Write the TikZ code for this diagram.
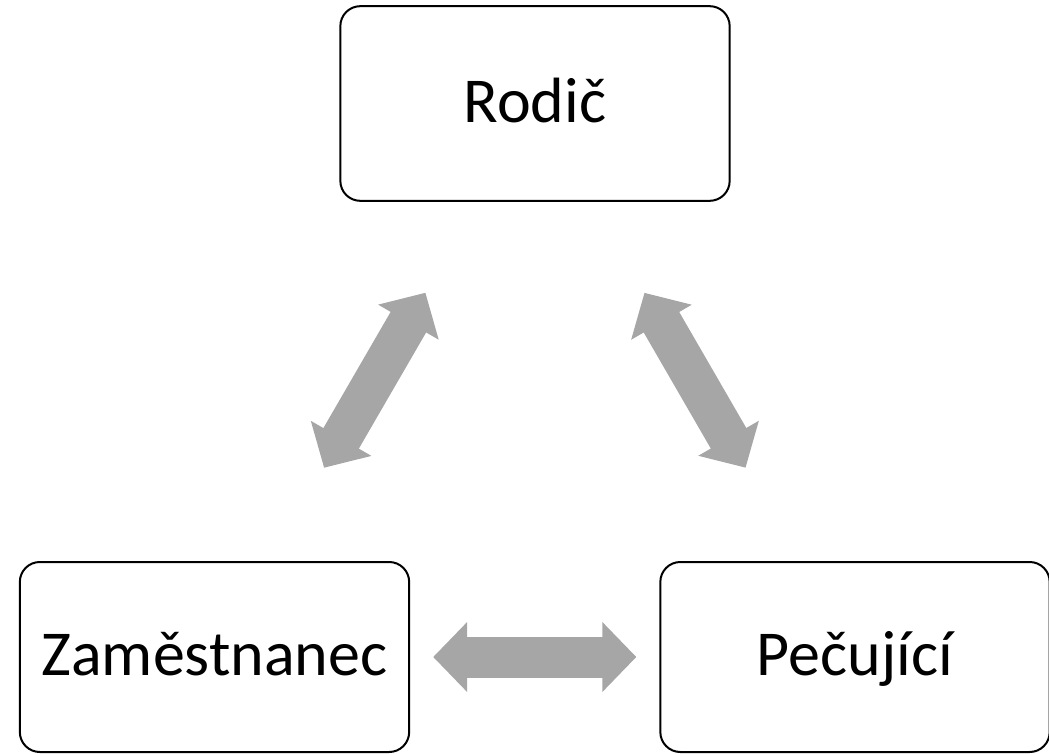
\documentclass[tikz,border=0pt]{standalone}
\usepackage{fontspec}
\setmainfont{Carlito}
\usetikzlibrary{arrows.meta}
\begin{document}
\begin{tikzpicture}[x=0.75pt, y=-0.75pt,
    role/.style={draw, line width=1.5pt, rounded corners=15pt,
        minimum width=292pt, minimum height=146pt, inner sep=0pt,
        text height=38pt, text depth=10pt,
        font=\fontsize{48}{58}\selectfont},
    link/.style={draw=clarrow, line width=30.75pt,
        {Triangle[length=25.5pt,width=51pt]}-{Triangle[length=25.5pt,width=51pt]},
        shorten <=164pt, shorten >=164pt}]
    \definecolor{clarrow}{HTML}{A6A6A6}
    \useasboundingbox (0,0) rectangle (1049,753);
    \node[role] (rodic) at (535,103.5) {Rodič};
    \node[role, minimum height=142.5pt] (zam) at (214.5,657) {Zaměstnanec};
    \node[role, minimum height=142.5pt] (pec) at (855,657) {Pečující};
    \draw[link] (rodic.center) -- (zam.center);
    \draw[link] (rodic.center) -- (pec.center);
    \draw[link] (zam.center) -- (pec.center);
\end{tikzpicture}
\end{document}
